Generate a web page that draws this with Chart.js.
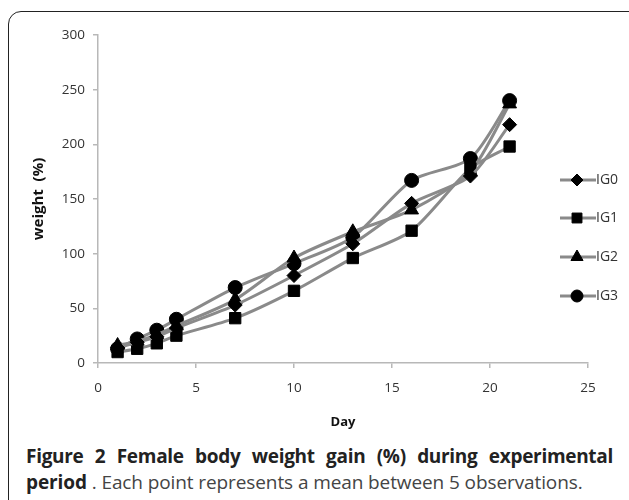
<!DOCTYPE html>
<html>
<head>
<meta charset="utf-8">
<script src="https://cdn.jsdelivr.net/npm/chart.js@4"></script>
<style>
  html, body { margin: 0; padding: 0; background: #fff; width: 629px; height: 500px; overflow: hidden; }
  #frame { position: absolute; left: 8px; top: 11px; width: 640px; height: 520px; border: 1.6px solid #222; border-radius: 13px; box-sizing: border-box; }
  #wrap { position: absolute; left: 0; top: 0; width: 629px; height: 440px; }
  #caption { position: absolute; left: 26px; top: 443px; width: 587px; font-family: "Open Sans", sans-serif; font-size: 19px; line-height: 26px; color: #222; }
  #caption .l1 { font-weight: bold; text-align: justify; text-align-last: justify; white-space: nowrap; letter-spacing: -0.3px; }
  #caption b { font-weight: bold; }
  #caption .l2 { color: #444; letter-spacing: -0.1px; white-space: nowrap; }
</style>
</head>
<body>
<div id="frame"></div>
<div id="wrap"><canvas id="c"></canvas></div>
<div id="caption">
  <div class="l1">Figure 2 Female body weight gain (%) during experimental</div>
  <div class="l2"><b style="color:#222">period</b> . Each point represents a mean between 5 observations.</div>
</div>
<script>
const days = [1, 2, 3, 4, 7, 10, 13, 16, 19, 21];
const seriesNames = ["IG0", "IG1", "IG2", "IG3"];
const ig0 = [14, 19, 24, 32, 53, 80, 109, 146, 171, 218];
const ig1 = [10, 13, 18, 25, 41, 66, 96, 121, 178, 198];
const ig2 = [16, 20, 26, 34, 58, 96, 120, 140, 175, 237];
const ig3 = [13, 22, 30, 40, 69, 91, 115, 167, 187, 240];
const xTicks = [0, 5, 10, 15, 20, 25];
const yTicks = [0, 50, 100, 150, 200, 250, 300];

const styles = [
  { pointStyle: "rectRot", radius: 7 },
  { pointStyle: "rect", radius: 8 },
  { pointStyle: "triangle", radius: 8 },
  { pointStyle: "circle", radius: 7 }
];
const allValues = [ig0, ig1, ig2, ig3];

const datasets = allValues.map((vals, i) => ({
  label: seriesNames[i],
  data: days.map((d, j) => ({ x: d, y: vals[j] })),
  borderColor: "#8a8a8a",
  borderWidth: 3,
  backgroundColor: "#000",
  pointBackgroundColor: "#000",
  pointBorderColor: "#000",
  pointBorderWidth: 1,
  pointStyle: styles[i].pointStyle,
  pointRadius: styles[i].radius,
  tension: 0.25,
  showLine: true,
  fill: false
}));

const legendPlugin = {
  id: "customLegend",
  afterDraw(chart) {
    const ctx = chart.ctx;
    const ys = [180, 218, 257, 296];
    ctx.save();
    chart.data.datasets.forEach((ds, i) => {
      const y = ys[i];
      ctx.strokeStyle = "#8a8a8a";
      ctx.lineWidth = 3;
      ctx.beginPath();
      ctx.moveTo(560, y);
      ctx.lineTo(596, y);
      ctx.stroke();
      ctx.fillStyle = "#000";
      ctx.strokeStyle = "#000";
      ctx.lineWidth = 1;
      Chart.helpers.drawPoint(ctx, { pointStyle: ds.pointStyle, radius: ds.pointRadius - 1, borderWidth: 1 }, 577, y);
      ctx.fillStyle = "#333";
      ctx.font = '14px "Open Sans"';
      ctx.textAlign = "left";
      ctx.textBaseline = "middle";
      ctx.fillText(ds.label, 596, y);
    });
    ctx.restore();
  }
};

new Chart(document.getElementById("c"), {
  type: "scatter",
  data: { datasets },
  plugins: [legendPlugin],
  options: {
    responsive: true,
    maintainAspectRatio: false,
    animation: false,
    layout: { padding: { left: 0, right: 41, top: 35, bottom: 0 } },
    plugins: { legend: { display: false }, tooltip: { enabled: false } },
    scales: {
      x: {
        type: "linear",
        min: 0, max: 25,
        afterBuildTicks(s) { s.ticks = xTicks.map(v => ({ value: v })); },
        afterFit(s) { s.height = 77; },
        grid: { display: true, drawOnChartArea: false, tickLength: 5, color: "#b8b8b8", lineWidth: 1.5 },
        border: { color: "#b8b8b8", width: 1.5 },
        ticks: { color: "#333", font: { family: "Open Sans", size: 13.5 }, padding: 12 },
        title: { display: true, text: "Day", color: "#111", font: { family: "Open Sans", size: 13, weight: "bold" }, padding: { top: 16, bottom: 10 } }
      },
      y: {
        type: "linear",
        min: 0, max: 300,
        afterBuildTicks(s) { s.ticks = yTicks.map(v => ({ value: v })); },
        afterFit(s) { s.width = 98; },
        grid: { display: true, drawOnChartArea: false, tickLength: 5, color: "#b8b8b8", lineWidth: 1.5 },
        border: { color: "#b8b8b8", width: 1.5 },
        ticks: { color: "#333", font: { family: "Open Sans", size: 13.5 }, padding: 8 },
        title: { display: true, text: "weight  (%)", color: "#111", font: { family: "Open Sans", size: 15, weight: "bold" }, padding: { top: 30, bottom: 0 } }
      }
    }
  }
});
</script>
</body>
</html>
